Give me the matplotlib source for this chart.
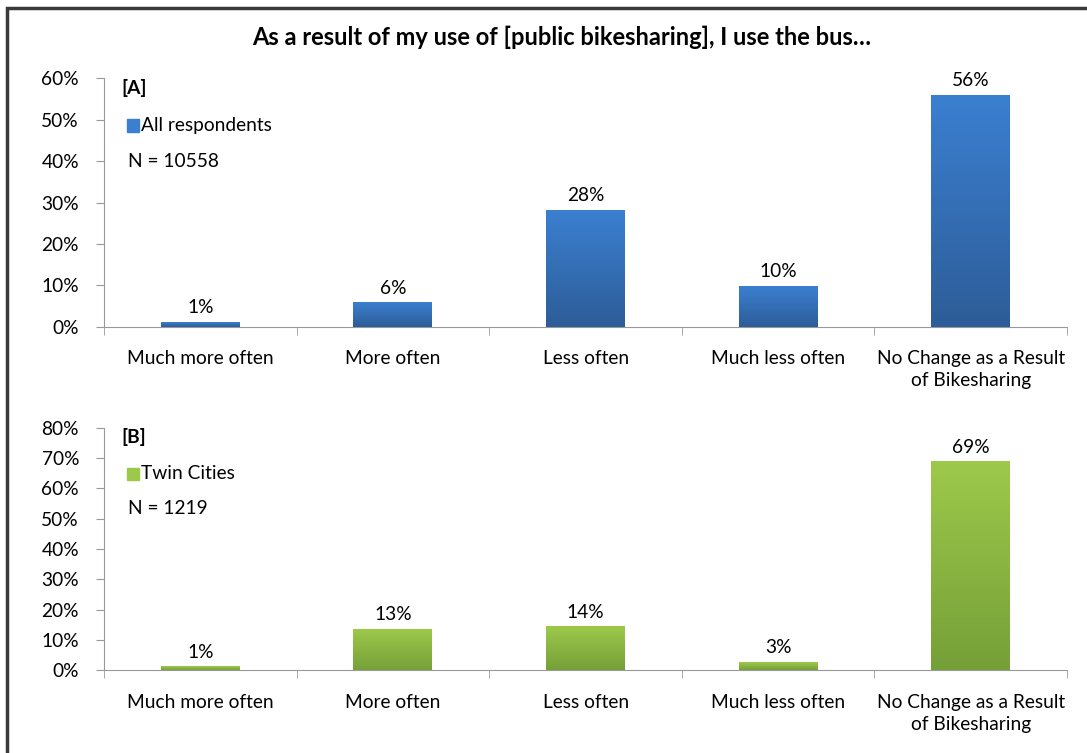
import numpy as np
import matplotlib.pyplot as plt
from matplotlib.colors import LinearSegmentedColormap
from matplotlib.patches import Rectangle

plt.rcParams['font.family'] = ['Lato', 'DejaVu Sans']

categories = ["Much more often", "More often", "Less often", "Much less often",
              "No Change as a Result\nof Bikesharing"]
all_resp = [1.2, 5.8, 28.2, 9.8, 56.0]
all_labels = ["1%", "6%", "28%", "10%", "56%"]
twin = [1.0, 13.4, 14.2, 2.6, 68.8]
twin_labels = ["1%", "13%", "14%", "3%", "69%"]

title = "As a result of my use of [public bikesharing], I use the bus\u2026"
fs = 13.8

fig = plt.figure(figsize=(10.87, 7.53), dpi=100)
fig.patches.append(Rectangle((0.0065, -0.01), 1.1, 1.0, transform=fig.transFigure,
                             fill=False, edgecolor='#3a3a3a', linewidth=2.5))
fig.text(0.517, 0.951, title, ha='center', va='center', fontsize=17, fontweight='bold')


def panel(rect, vals, labels, ymax, top_c, bot_c, tag, name, n):
    ax = fig.add_axes(rect)
    x = np.arange(len(vals))
    cmap = LinearSegmentedColormap.from_list('g', [bot_c, top_c])
    bars = ax.bar(x, vals, width=0.41, color=top_c, zorder=2)
    grad = np.linspace(0, 1, 100).reshape(-1, 1)
    for b in bars:
        x0, w, h = b.get_x(), b.get_width(), b.get_height()
        ax.imshow(grad, cmap=cmap, origin='lower', aspect='auto',
                  extent=(x0, x0 + w, 0, h), zorder=3)
        b.set_alpha(0)
    for xi, v, lab in zip(x, vals, labels):
        ax.text(xi, v + ymax * 0.025, lab, ha='center', va='bottom', fontsize=fs)
    ax.set_xlim(-0.5, len(vals) - 0.5)
    ax.set_ylim(0, ymax)
    ax.set_yticks(np.arange(0, ymax + 1, 10))
    ax.set_yticklabels([f"{t}%" for t in range(0, ymax + 1, 10)], fontsize=fs)
    ax.set_xticks(x)
    ax.set_xticklabels(categories, fontsize=fs, linespacing=1.35)
    ax.set_xticks(np.arange(-0.5, len(vals)), minor=True)
    ax.tick_params(axis='x', which='major', length=0, pad=17)
    ax.tick_params(axis='x', which='minor', length=6, color='#999999')
    ax.tick_params(axis='y', length=6, color='#999999', pad=12)
    for s in ['top', 'right']:
        ax.spines[s].set_visible(False)
    for s in ['left', 'bottom']:
        ax.spines[s].set_color('#999999')
    ax.text(0.018, 0.96, tag, transform=ax.transAxes, fontsize=fs, fontweight='bold', va='center')
    ax.add_patch(Rectangle((0.024, 0.785), 0.0125, 0.05, transform=ax.transAxes,
                           color=top_c, clip_on=False))
    ax.text(0.038, 0.81, name, transform=ax.transAxes, fontsize=fs, va='center')
    ax.text(0.025, 0.665, n, transform=ax.transAxes, fontsize=fs, va='center')
    return ax


panel([0.0957, 0.566, 0.886, 0.33], all_resp, all_labels, 60,
      '#3b7fd0', '#2d5d98', '[A]', 'All respondents', 'N = 10558')
panel([0.0957, 0.110, 0.886, 0.322], twin, twin_labels, 80,
      '#9dc94b', '#75a038', '[B]', 'Twin Cities', 'N = 1219')

fig.savefig('out.png', dpi=100)
